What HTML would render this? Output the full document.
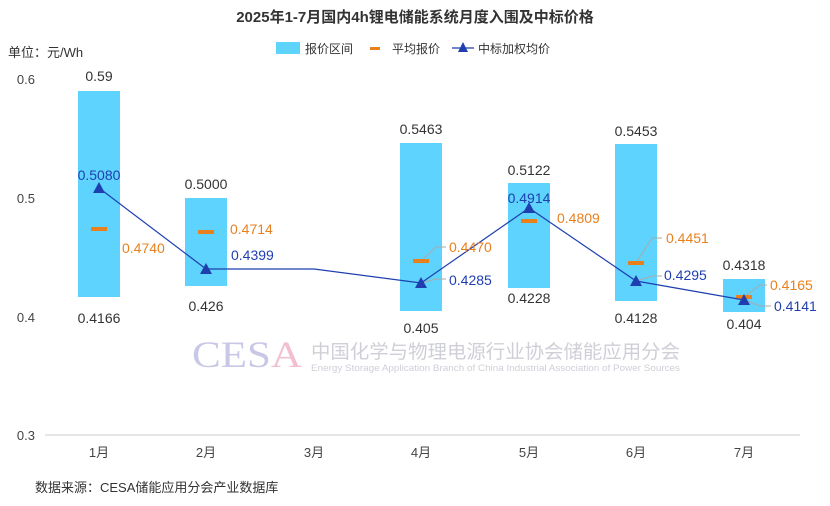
<!DOCTYPE html>
<html><head><meta charset="utf-8"><style>
body{margin:0;background:#fff}
text{font-family:"Liberation Sans","Noto Sans CJK SC",sans-serif}
</style></head><body>
<svg width="830" height="501" viewBox="0 0 830 501" xmlns="http://www.w3.org/2000/svg">
<rect width="830" height="501" fill="#fff"/>
<text x="415" y="22" text-anchor="middle" font-size="15" font-weight="bold" fill="#333">2025年1-7月国内4h锂电储能系统月度入围及中标价格</text>
<text x="8" y="57" font-size="13" fill="#333">单位：元/Wh</text>
<rect x="276" y="42" width="24" height="12" fill="#5dd3fd"/><text x="305" y="53" font-size="12" fill="#333">报价区间</text>
<rect x="370" y="47" width="10" height="3" fill="#e8801e"/><text x="392" y="53" font-size="12" fill="#333">平均报价</text>
<line x1="452" y1="48" x2="474" y2="48" stroke="#1f3fb0" stroke-width="1.2"/><polygon points="463,42 468,52 458,52" fill="#1f3fb0"/><text x="478" y="53" font-size="12" fill="#333">中标加权均价</text>
<g font-size="13" fill="#444" text-anchor="end">
<text x="35" y="84">0.6</text><text x="35" y="203">0.5</text><text x="35" y="322">0.4</text><text x="35" y="440">0.3</text></g>
<line x1="45" y1="435" x2="800" y2="435" stroke="#ccc"/>
<g font-size="13" fill="#444" text-anchor="middle">
<text x="99" y="457">1月</text><text x="206" y="457">2月</text><text x="314" y="457">3月</text><text x="421" y="457">4月</text><text x="529" y="457">5月</text><text x="636" y="457">6月</text><text x="744" y="457">7月</text></g>
<text x="35" y="492" font-size="13" fill="#333">数据来源：CESA储能应用分会产业数据库</text>
<!-- watermark -->
<text x="192" y="367" style="font-family:'Liberation Serif',serif" font-size="37" fill="#c8c8e6" textLength="110" lengthAdjust="spacingAndGlyphs">CES<tspan fill="#f2bfd0">A</tspan></text>
<text x="311" y="358" font-size="19" fill="#cfcfd8" textLength="369" lengthAdjust="spacingAndGlyphs">中国化学与物理电源行业协会储能应用分会</text>
<text x="311" y="371" font-size="9" fill="#cfcfd8" textLength="369" lengthAdjust="spacingAndGlyphs">Energy Storage Application Branch of China Industrial Association of Power Sources</text>
<!-- bars -->
<g fill="#5dd3fd">
<rect x="78" y="91" width="42" height="206"/>
<rect x="185" y="198" width="42" height="88"/>
<rect x="400" y="143" width="42" height="168"/>
<rect x="508" y="183" width="42" height="105"/>
<rect x="615" y="144" width="42" height="157"/>
<rect x="723" y="279" width="42" height="33"/>
</g>
<!-- leaders -->
<g stroke="#aaa" fill="none" stroke-width="1">
<polyline points="421,261 436,247 446,247"/><polyline points="421,283 436,279 446,279"/>
<polyline points="636,263 652,238 662,238"/><polyline points="636,281 652,276 662,276"/>
<polyline points="744,297 760,285 767,285"/><polyline points="744,300 760,306 771,306"/>
</g>
<g fill="#e8801e">
<rect x="91" y="227" width="16" height="4"/><rect x="198" y="230" width="16" height="4"/><rect x="413" y="259" width="16" height="4"/><rect x="521" y="219" width="16" height="4"/><rect x="628" y="261" width="16" height="4"/><rect x="736" y="295" width="16" height="4"/>
</g>
<polyline points="99,188 206,269 314,269 421,283 529,208 636,281 744,300" fill="none" stroke="#1f3fb0" stroke-width="1.2"/>
<g fill="#1f3fb0">
<polygon points="99,182 105,193 93,193"/><polygon points="206,263 212,274 200,274"/><polygon points="421,277 427,288 415,288"/><polygon points="529,202 535,213 523,213"/><polygon points="636,275 642,286 630,286"/><polygon points="744,294 750,305 738,305"/>
</g>
<g font-size="14" fill="#333" text-anchor="middle">
<text x="99" y="81">0.59</text><text x="99" y="323">0.4166</text>
<text x="206" y="189">0.5000</text><text x="206" y="311">0.426</text>
<text x="421" y="134">0.5463</text><text x="421" y="333">0.405</text>
<text x="529" y="175">0.5122</text><text x="529" y="303">0.4228</text>
<text x="636" y="136">0.5453</text><text x="636" y="323">0.4128</text>
<text x="744" y="270">0.4318</text><text x="744" y="329">0.404</text>
</g>
<g font-size="14" fill="#e8801e">
<text x="122" y="253">0.4740</text><text x="230" y="234">0.4714</text><text x="449" y="252">0.4470</text><text x="557" y="223">0.4809</text><text x="666" y="243">0.4451</text><text x="770" y="290">0.4165</text>
</g>
<g font-size="14" fill="#1f3fb0">
<text x="99" y="180" text-anchor="middle">0.5080</text><text x="231" y="260">0.4399</text><text x="449" y="285">0.4285</text><text x="529" y="203" text-anchor="middle">0.4914</text><text x="664" y="280">0.4295</text><text x="774" y="311">0.4141</text>
</g>
</svg>
</body></html>
